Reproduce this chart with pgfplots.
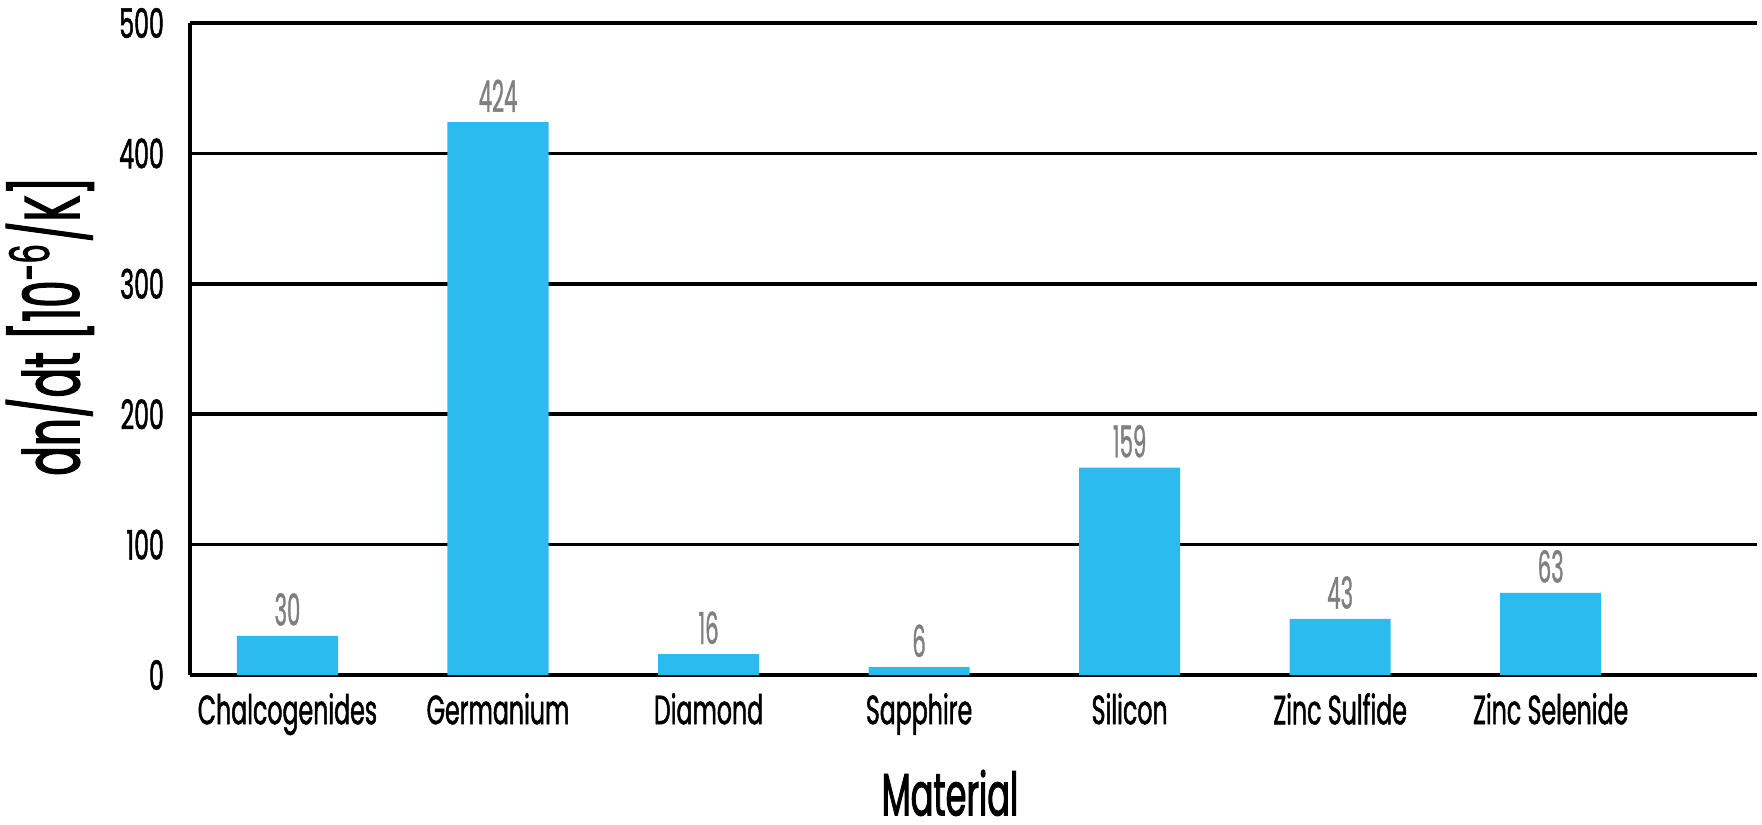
\documentclass[border=0pt]{standalone}
\usepackage{fontspec}
\setmainfont{Poppins}[FakeStretch=0.58, FakeBold=1.2]
\newfontfamily\valfont{Poppins}[FakeStretch=0.48, FakeBold=0.8]
\newfontfamily\labfont{Poppins}[FakeStretch=0.56, FakeBold=1.5]
\usepackage{pgfplots}
\pgfplotsset{compat=1.18}
\definecolor{barblue}{HTML}{2BBBEE}
\definecolor{valgray}{HTML}{7F7F7F}
\begin{document}
\begin{tikzpicture}
\begin{axis}[
  scale only axis,
  width=391.75pt, height=163pt,
  xmin=-0.463, xmax=6.98,
  ymin=0, ymax=500,
  ytick={0,100,200,300,400,500},
  xtick={0,1,2,3,4,5,6},
  xticklabels={Chalcogenides,Germanium,Diamond,Sapphire,Silicon,Zinc Sulfide,Zinc Selenide},
  axis x line*=bottom,
  axis y line*=left,
  axis line style={line width=0.9pt, -},
  ymajorgrids,
  grid style={black, line width=0.9pt},
  major tick length=0pt,
  tick style={draw=none},
  /pgf/number format/assume math mode=true,
  ticklabel style={font=\fontsize{10.2}{11}\selectfont},
  yticklabel style={xshift=-3pt},
  xticklabel style={yshift=-1pt},
  xlabel={Material},
  ylabel={dn/dt [10\textsuperscript{-6}/K]},
  xlabel style={font=\labfont\fontsize{15}{17}\selectfont, at={(axis description cs:0.485,0)}, anchor=north, inner sep=0pt, yshift=-23.5pt},
  ylabel style={font=\labfont\fontsize{19.5}{22}\selectfont, at={(axis description cs:-0.118,0.535)}, anchor=north, inner sep=0pt},
  ybar, bar width=0.48,
  nodes near coords,
  nodes near coords style={font=\valfont\fontsize{11}{12}\selectfont, text=valgray, yshift=-1pt},
  clip=false,
]
\addplot[fill=barblue, draw=none] coordinates {
  (0,30) (1,424) (2,16) (3,6) (4,159) (5,43) (6,63)
};
\end{axis}
\pgfresetboundingbox
\path[use as bounding box] (current axis.south west) ++(-47.5pt,-37.25pt) rectangle ++(440.5pt,206pt);
\end{tikzpicture}
\end{document}
